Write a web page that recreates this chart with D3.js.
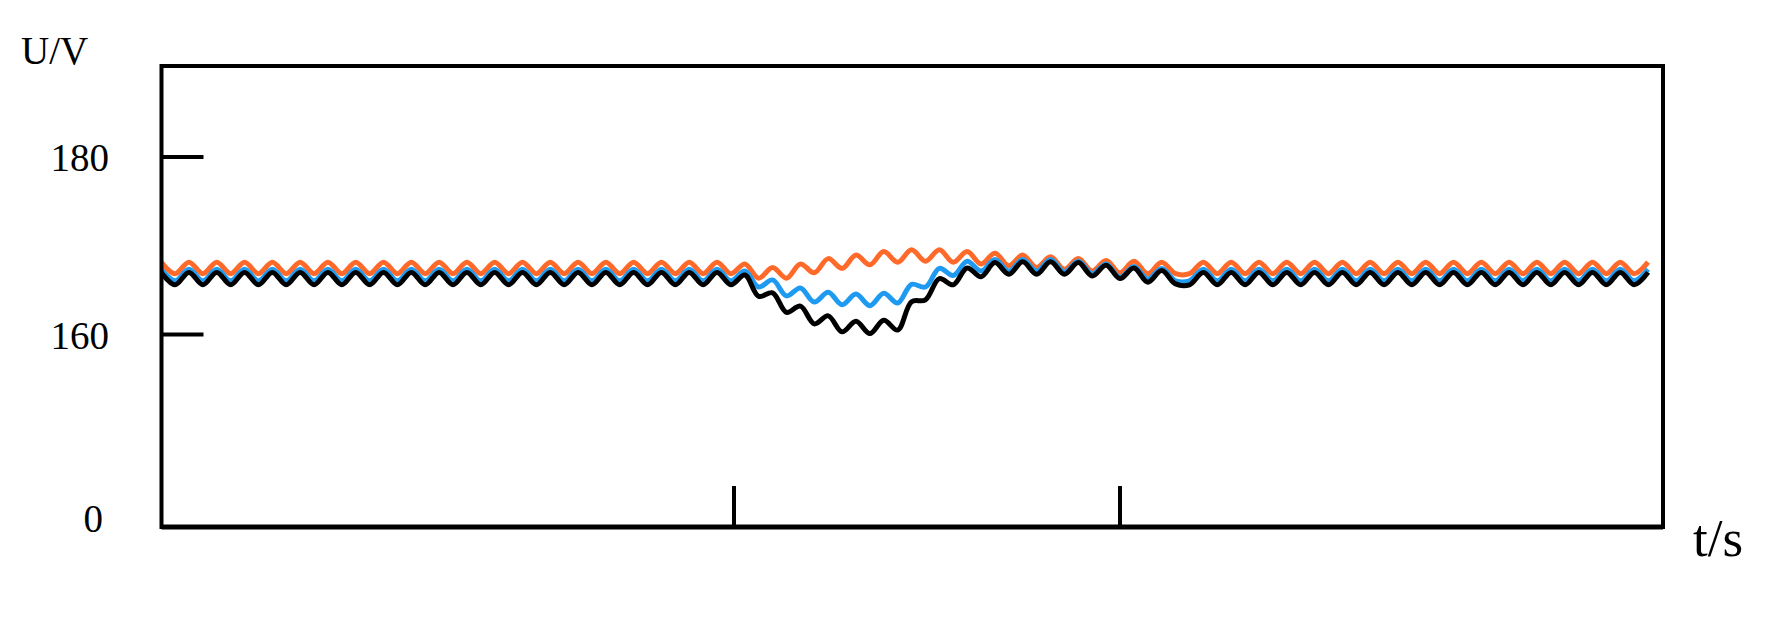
<!DOCTYPE html>
<html><head><meta charset="utf-8">
<script src="https://cdn.jsdelivr.net/npm/d3@7"></script>
<style>body{margin:0;background:#fff}</style>
</head><body>
<div class="container"></div>
<script>
// sampled every half ripple period, starting at t0
var t0 = 0.3516, dt = 0.0036;
function steady(hi, lo, n) { var a = []; for (var i = 0; i < n; i++) a.push(i % 2 ? lo : hi); return a; }
var orange = steady(168.15, 166.85, 42).concat(
  [167.95,166.35,167.55,166.35,167.95,166.95,168.55,167.45,168.95,167.85,169.35,168.15,169.55,168.25,169.55,168.15,
   169.35,167.95,169.15,167.75,168.95,167.55,168.75,167.35,168.55,167.15,168.35,166.95,168.25,166.85,168.15,166.85],
  steady(166.85, 168.15, 34));
var blue = steady(167.35, 166.05, 42).concat(
  [167.15,165.35,166.15,164.35,165.25,163.65,164.75,163.35,164.55,163.25,164.65,163.55,165.65,165.35,167.45,166.65,
   168.25,167.15,168.45,167.15,168.45,167.15,168.45,167.05,168.25,166.85,167.95,166.45,167.65,166.25,167.45,166.05],
  steady(166.05, 167.35, 34));
var black = steady(167.0, 165.6, 42).concat(
  [166.7,164.3,164.7,162.5,163.2,161.2,162.1,160.3,161.5,160.1,161.6,160.5,163.7,163.9,166.3,165.6,
   167.5,166.5,168.1,166.8,168.2,166.8,168.2,166.8,168.1,166.6,167.8,166.3,167.5,165.9,167.2,165.7],
  steady(165.6, 167.0, 34));
var yTicks = [0, 160, 180];
var xTicks = [0.5, 0.6];

var svg = d3.select(".container").append("svg").attr("width", 1787).attr("height", 628);
var x = d3.scaleLinear().domain([0.5, 0.6]).range([734, 1120]);
var y = d3.scaleLinear().domain([0, 160, 180]).range([518, 334.5, 157]);
var L = 161.5, R = 1663, T = 66, B = 527;

var line = d3.line().x(function(d, i){ return x(t0 + i * dt); }).y(function(d){ return y(d); })
  .curve(d3.curveCatmullRom);
svg.append("clipPath").attr("id", "c").append("rect")
  .attr("x", L).attr("y", T).attr("width", R - L).attr("height", B - T);
var g = svg.append("g").attr("clip-path", "url(#c)");
[[orange, "#ff6a2a"], [blue, "#1e9bf0"], [black, "#000"]].forEach(function(s) {
  g.append("path").datum(s[0]).attr("d", line).attr("fill", "none")
    .attr("stroke", s[1]).attr("stroke-width", 5);
});

svg.append("rect").attr("x", L).attr("y", T).attr("width", R - L).attr("height", B - T)
  .attr("fill", "none").attr("stroke", "#000").attr("stroke-width", 4);
svg.append("line").attr("x1", L).attr("x2", R).attr("y1", B).attr("y2", B)
  .attr("stroke", "#000").attr("stroke-width", 5);

var font = "Liberation Serif, Times New Roman, serif";
yTicks.forEach(function(v) {
  if (v > 0) svg.append("line").attr("x1", L).attr("x2", L + 42).attr("y1", y(v)).attr("y2", y(v))
    .attr("stroke", "#000").attr("stroke-width", 4);
  svg.append("text").attr("x", v > 0 ? 109 : 103).attr("y", y(v) + 14).attr("text-anchor", "end")
    .attr("font-family", font).attr("font-size", 39).text(v);
});
xTicks.forEach(function(v) {
  svg.append("line").attr("x1", x(v)).attr("x2", x(v)).attr("y1", B).attr("y2", B - 41)
    .attr("stroke", "#000").attr("stroke-width", 4);
  svg.append("text").attr("x", x(v)).attr("y", 664).attr("text-anchor", "middle")
    .attr("font-family", font).attr("font-size", 39).text(v);
});
svg.append("text").attr("x", 21).attr("y", 64).attr("font-family", font).attr("font-size", 39).text("U/V");
svg.append("text").attr("x", 1693).attr("y", 556).attr("font-family", font).attr("font-size", 53).text("t/s");
</script>
</body></html>
